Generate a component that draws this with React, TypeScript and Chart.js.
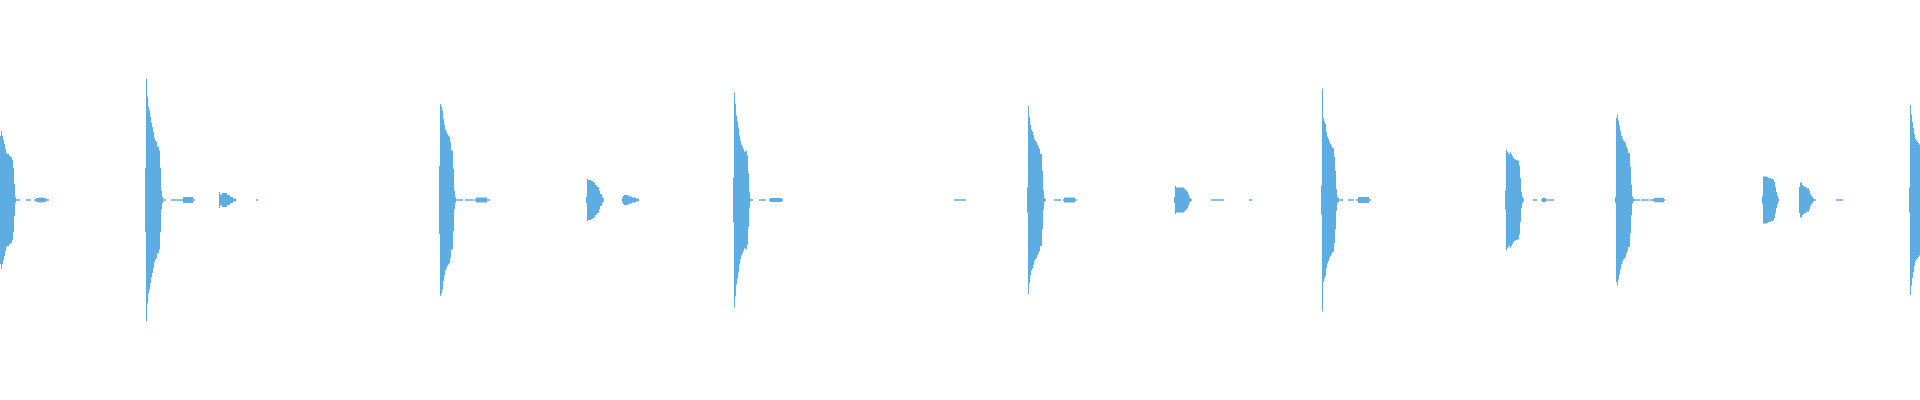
import React, { useEffect, useRef } from 'react';
import { Chart, registerables } from 'chart.js';

Chart.register(...registerables);

// waveform peaks, one value per pixel column (half-height, full scale = 200)
const segmentStarts: number[] = [
  0, 26, 34,
  145, 163, 171, 181, 219, 256,
  439, 456, 465, 474, 586, 622,
  733, 751, 759, 769,
  954, 1027, 1054, 1063, 1174, 1211, 1249,
  1321, 1339, 1348, 1356,
  1505, 1533, 1541, 1615, 1634, 1641, 1650, 1653,
  1762, 1799, 1836, 1909,
];

const segmentPeaks: number[][] = [
  [64, 69, 64, 60, 56, 51, 47, 46, 46, 44, 43, 43, 40, 32, 16, 3, 0.7, 0.7, 0.7, 0.7],
  [0.7, 0.7, 0.7, 0.7, 0.7],
  [0.7, 0.7, 2, 2, 2, 2.5, 2.5, 2.5, 2.5, 2, 2, 2, 0.7, 0.7, 0.7],

  [32, 121.5, 103.5, 93.5, 89.5, 83.5, 77.5, 73, 68, 62, 59.5, 58, 53.5, 53.5, 49.5, 32, 9.5, 3],
  [0.7, 0.7, 0.7],
  [0.7, 0.7, 0.7, 0.7, 0.7, 0.7, 0.7, 0.7, 0.7, 0.7],
  [0.7, 0.7, 3, 3, 3, 3, 3, 3, 3, 3, 3, 3, 0.7, 0.7],
  [8, 5.5, 5.5, 7, 7, 7, 7, 7, 5, 5, 5, 3, 3, 3, 1.5, 1.5, 1.5],
  [0.7, 0.7],

  [34, 96, 94, 89.5, 81, 75.5, 70.5, 68.5, 66, 64.5, 63, 58, 49.5, 49.5, 31, 9.5, 3],
  [0.7, 0.7, 0.7, 0.7, 0.7, 0.7, 0.7],
  [0.7, 0.7, 0.7, 0.7, 0.7, 0.7, 0.7, 0.7],
  [0.7, 0.7, 2.5, 2.5, 2.5, 2.5, 2.5, 2.5, 2.5, 2.5, 2.5, 2.5, 2.5, 0.7, 0.7, 0.7],
  [3, 21, 20, 20, 20, 19, 19, 18, 17, 15, 15, 13, 13, 9.5, 6, 6, 3, 1.5],
  [2.5, 4, 5, 5, 5, 5, 4.5, 3.5, 3.5, 3.5, 2.5, 2.5, 2.5, 2.5, 1.5, 1.5, 1.5],

  [22, 107.5, 96.5, 84.5, 78.5, 72.5, 64.5, 59.5, 55.5, 53.5, 51, 48.5, 48.5, 49.5, 44.5, 27, 8.5, 1.5],
  [0.7, 0.7],
  [0.7, 0.7, 0.7, 0.7, 0.7, 0.7, 0.7],
  [0.7, 2, 2, 2, 2, 2, 2, 2, 2, 2, 2, 2, 2, 0.7],

  [0.7, 0.7, 0.7, 0.7, 0.7, 0.7, 0.7, 0.7, 0.7, 0.7, 0.7, 0.7],
  [12.5, 94, 83, 75.5, 70.5, 68.5, 65, 61, 59, 58, 55.5, 53, 51, 46, 46, 29.5, 9.5, 2, 1],
  [0.7, 0.7, 0.7, 0.7, 0.7, 0.7, 0.7],
  [0.7, 2.5, 2.5, 2.5, 2.5, 2.5, 2.5, 2.5, 2.5, 2.5, 2.5, 2.5, 0.7, 0.7],
  [3, 14, 12.5, 12.5, 12.5, 12.5, 12.5, 12.5, 12.5, 12.5, 11.5, 10.5, 9.5, 8.5, 5.5, 3, 1.5, 1],
  [0.7, 0.7, 0.7, 0.7, 0.7, 0.7, 0.7, 0.7, 0.7, 0.7, 0.7, 0.7, 0.7],
  [0.7, 0.7, 0.7],

  [14.5, 111.5, 82, 78.5, 76, 68, 63.5, 61, 58.5, 56, 54.5, 52, 52, 43.5, 29.5, 11, 3.5, 2],
  [0.7, 0.7, 0.7, 0.7],
  [0.7, 0.7, 0.7, 0.7, 0.7, 0.7],
  [0.7, 0.7, 3, 3, 3, 3, 3, 3, 3, 3, 3, 3, 3, 0.7, 0.7],

  [9.5, 50.5, 48.5, 47, 45.5, 48, 46, 44, 42, 41, 40.5, 40, 39.5, 39.5, 34.5, 22, 8, 3.5, 1.5],
  [0.7, 0.7, 0.7, 0.7],
  [0.7, 2, 2, 2, 2, 0.7, 0.7, 0.7, 0.7, 0.7, 0.7, 0.7, 0.7],
  [3, 82, 85.5, 79.5, 74.5, 69.5, 64.5, 62, 59.5, 58.5, 57, 53.5, 51, 47, 47, 33.5, 15.5, 3.5, 1.5],
  [0.7, 0.7, 0.7, 0.7, 0.7, 0.7],
  [0.7, 0.7, 0.7, 0.7, 0.7, 0.7, 0.7, 0.7],
  [0.7, 0.7, 0.7],
  [1.5, 1.5, 2.2, 2.2, 2.2, 2.2, 2.2, 2.2, 2.2, 2.2, 2.2, 1],

  [3.5, 23.5, 23.5, 23.5, 23.5, 23, 22, 22, 22, 21, 21, 20.5, 18, 13, 8, 4.5, 1.5],
  [13, 17.5, 17.5, 15, 14, 13, 13, 12.5, 11.5, 11.5, 9, 6, 4.5, 3, 1.5, 0.7, 0.7],
  [0.7, 0.7, 0.7, 0.7, 0.7, 0.7, 0.7],
  [12.5, 95, 85.5, 78, 72, 66, 61, 59.5, 58.5, 57, 55.5],
];

const waveColor = '#5DADE2';

function Waveform() {
  const canvasRef = useRef<HTMLCanvasElement>(null);

  useEffect(() => {
    const bars: { x: number; y: [number, number] }[] = [];
    segmentStarts.forEach((start, s) => {
      segmentPeaks[s].forEach((p, i) => bars.push({ x: start + i, y: [-p, p] }));
    });

    const chart = new Chart(canvasRef.current!, {
      type: 'bar',
      data: {
        datasets: [
          {
            data: bars as any,
            backgroundColor: waveColor,
            borderWidth: 0,
            barPercentage: 1,
            categoryPercentage: 1,
            inflateAmount: 0,
          },
        ],
      },
      options: {
        responsive: true,
        maintainAspectRatio: false,
        animation: false,
        layout: { padding: 0 },
        plugins: { legend: { display: false }, tooltip: { enabled: false } },
        scales: {
          x: { type: 'linear', display: false, min: -0.5, max: 1919.5, offset: false },
          y: { display: false, min: -200, max: 200 },
        },
      },
    });

    return () => chart.destroy();
  }, []);

  return (
    <div style={{ position: 'absolute', left: 0, top: 0, width: 1920, height: 400 }}>
      <canvas ref={canvasRef} aria-label="Waveform" />
    </div>
  );
}

export default function App() {
  return <Waveform />;
}
